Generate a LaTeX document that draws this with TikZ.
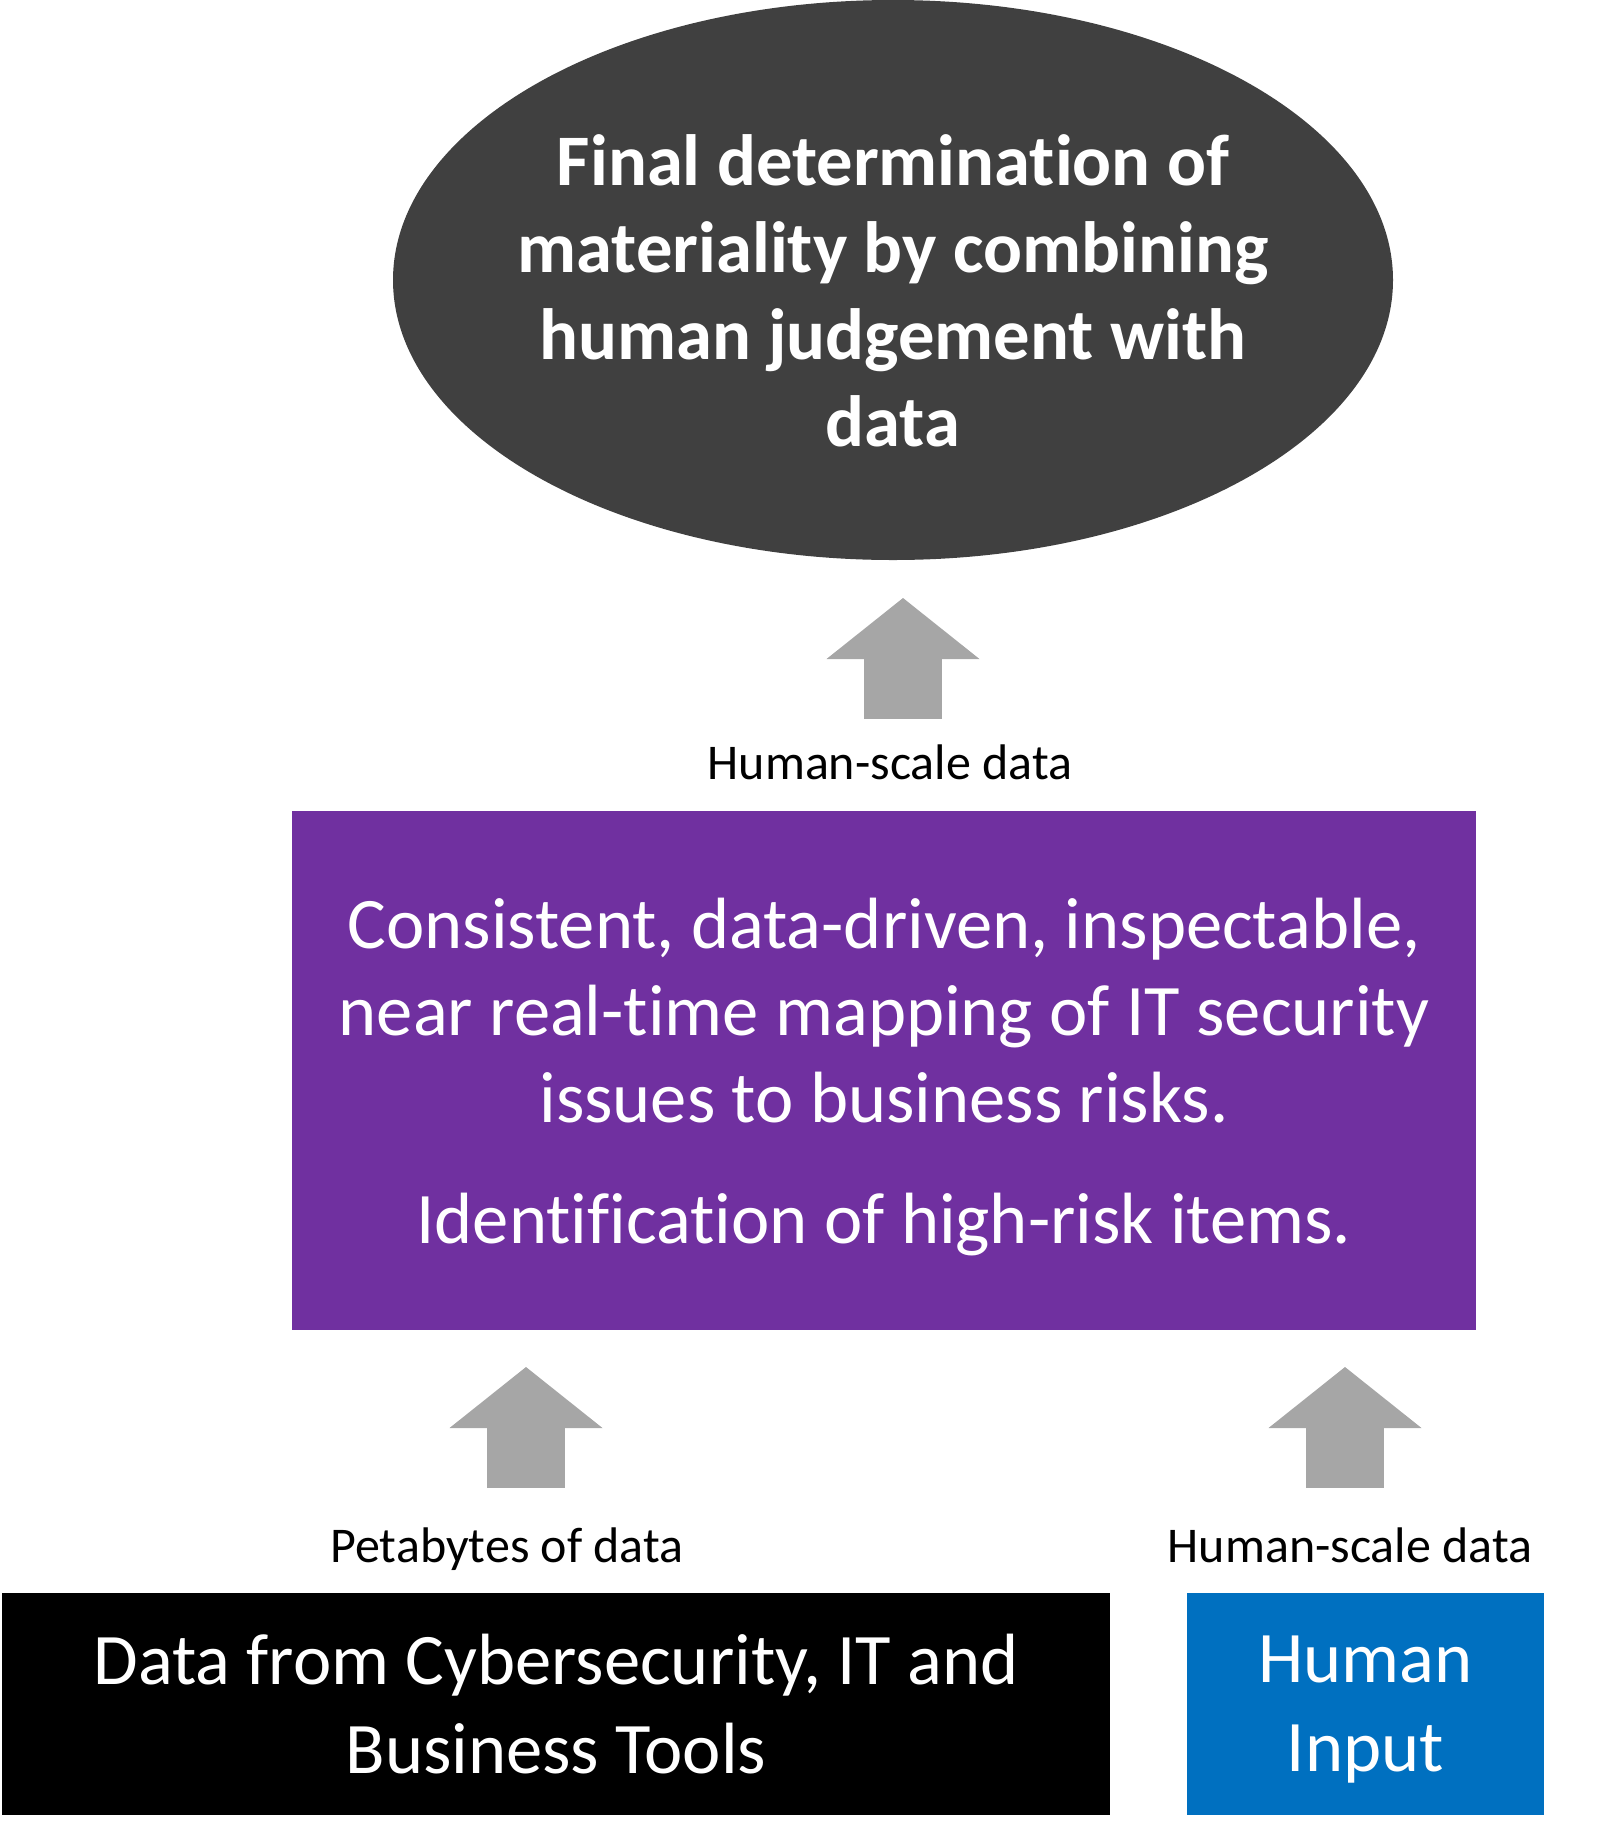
\documentclass[tikz,border=0pt]{standalone}
\usepackage{fontspec}
\setmainfont{Carlito}[Ligatures=NoCommon, RawFeature={-ccmp;-liga;-calt}]
\usepackage{xcolor}
\usepackage{tikz}
\usetikzlibrary{arrows.meta,positioning,shapes.geometric}
\definecolor{gl}{HTML}{404040}
\definecolor{mp}{HTML}{7030A0}
\definecolor{hi}{HTML}{0070C0}
\definecolor{ar}{HTML}{A6A6A6}
\tikzset{
  big/.style={font=\fontsize{36.3}{43.5}\selectfont, text=white, align=center, inner sep=0pt},
  tag/.style={font=\fontsize{25}{30}\selectfont, inner sep=0pt},
  block/.style={inner sep=0pt, text depth=0pt},
  uparr/.style={draw=ar, line width=39pt, -{Triangle[length=30.5pt, width=76.5pt, line width=0pt]}},
}

\begin{document}
\begin{tikzpicture}[x=0.5pt, y=-0.5pt]
  \useasboundingbox (0,0) rectangle (1617,1837);
  \node[ellipse, fill=gl, minimum width=500pt, minimum height=280pt, inner sep=0pt] (goal) at (893,280) {};
  \node[big, font=\fontsize{36.3}{43.5}\selectfont\bfseries] (goaltxt) at ([yshift=-5.5pt]goal.center)
    {Final determination of\\materiality by combining\\human judgement with\\data};
  \node[tag] (tagtop) at (890,762) {Human-scale data};
  \coordinate (a1s) at (903,719);
  \coordinate (a1e) at (903,598);
  \draw[uparr] (a1s) -- (a1e);
  \node[big, block, fill=mp, minimum width=592pt, minimum height=259.5pt] (mapbox) at (884,1070.5)
    {Consistent, data-driven, inspectable,\\near real-time mapping of IT security\\issues to business risks.\\[17pt]Identification of high-risk items.};
  \node[tag] (tagpeta) at (507,1549) {Petabytes of data};
  \node[tag] (taghum) at (1350,1545) {Human-scale data};
  \coordinate (a2s) at (526,1488);
  \coordinate (a2e) at (526,1367);
  \coordinate (a3s) at (1345,1488);
  \coordinate (a3e) at (1345,1367);
  \draw[uparr] (a2s) -- (a2e);
  \draw[uparr] (a3s) -- (a3e);
  \node[big, block, fill=black, minimum width=554pt, minimum height=111pt, font=\fontsize{36.3}{44.5}\selectfont] (tools) at (556,1704)
    {Data from Cybersecurity, IT and\\Business Tools};
  \node[big, block, fill=hi, minimum width=178.5pt, minimum height=111pt, font=\fontsize{36.3}{44.5}\selectfont] (human) at (1365.5,1704)
    {Human\\Input};
\end{tikzpicture}
\end{document}
